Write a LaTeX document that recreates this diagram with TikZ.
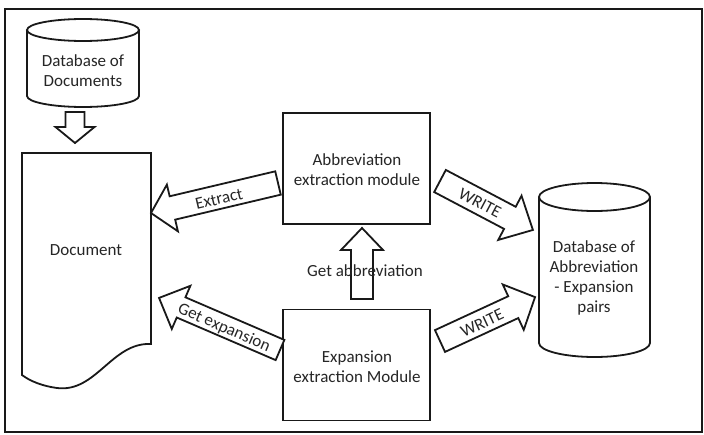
\documentclass[tikz,border=0pt]{standalone}
\usepackage{fontspec}
\setmainfont{Carlito}
\begin{document}
\begin{tikzpicture}[x=1pt,y=-1pt,
  line/.style={draw=black!90, line width=1.8pt},
  txt/.style={font=\fontsize{17}{20}\selectfont, text=black!85, align=center, inner sep=0pt},
  modbox/.style={line, minimum width=147pt, minimum height=111pt, inner sep=0pt, fill=white},
  blk/.style={line, fill=white, line join=miter}]
\newcommand\blockarr[6]{%
  \begin{scope}[shift={(#1)}, rotate=#2]
    \draw[blk] (0,-#4) -- ({#3-#6},-#4) -- ({#3-#6},-#5) -- (#3,0)
      -- ({#3-#6},#5) -- ({#3-#6},#4) -- (0,#4) -- cycle;
  \end{scope}}
\useasboundingbox (0,0) rectangle (704,434);
\fill[white] (0,0) rectangle (704,434);
% outer frame
\draw[line] (5,9) rectangle (702,432);

% database of documents cylinder
\draw[line, fill=white] (27,30) -- (27,96)
  arc[start angle=180, end angle=360, x radius=56pt, y radius=11pt] -- (139,30);
\draw[line] (83,30) ellipse[x radius=56pt, y radius=11pt];
\node[txt] (dbdoc) at (83,71) {Database of\\Documents};

% document shape
\draw[line, fill=white] (22,153) -- (151,153) -- (151,344)
  .. controls (112,342) and (96,393) .. (57,388)
  .. controls (42,386) and (30,381) .. (22,375) -- cycle;
\node[txt] (doc) at (86,250) {Document};

% modules
\node[modbox] (abbr) at (356.5,168.5) {};
\node[txt] (abbrt) at (357,170) {Abbreviation\\extraction module};
\node[modbox] (expn) at (356.5,365) {};
\node[txt] (expnt) at (357,367) {Expansion\\extraction Module};

% database of abbreviation-expansion pairs
\draw[line, fill=white] (539,197) -- (539,343)
  arc[start angle=180, end angle=360, x radius=55.5pt, y radius=14pt] -- (650,197);
\draw[line] (594.5,197) ellipse[x radius=55.5pt, y radius=14pt];
\node[txt] (dbab) at (594,278) {Database of\\Abbreviation\\- Expansion\\pairs};

% arrow tails
\coordinate (t1) at (75,112);
\coordinate (t2) at (278,183);
\coordinate (t3) at (280,350);
\coordinate (t4) at (440,181);
\coordinate (t5) at (440,341);
\coordinate (t6) at (362,299);

\blockarr{t1}{-90}{31}{9.5}{19.5}{16}
\blockarr{t2}{193.3}{130.5}{12}{24}{22}
\blockarr{t3}{156.7}{131.7}{11}{23.5}{24}
\blockarr{t4}{-27.8}{105}{12.5}{25}{26}
\blockarr{t5}{24.8}{104.7}{12}{25}{24}
\blockarr{t6}{90}{71}{11}{21}{22}

\node[txt, rotate=13.3] (lext) at (219,199) {Extract};
\node[txt, rotate=-23.3] (lgex) at (224,328) {Get expansion};
\node[txt, rotate=-27.8] (lw1) at (480,203) {WRITE};
\node[txt, rotate=24.8] (lw2) at (482,323) {WRITE};
\node[txt] (lgab) at (365,271) {Get abbreviation};
\end{tikzpicture}
\end{document}
